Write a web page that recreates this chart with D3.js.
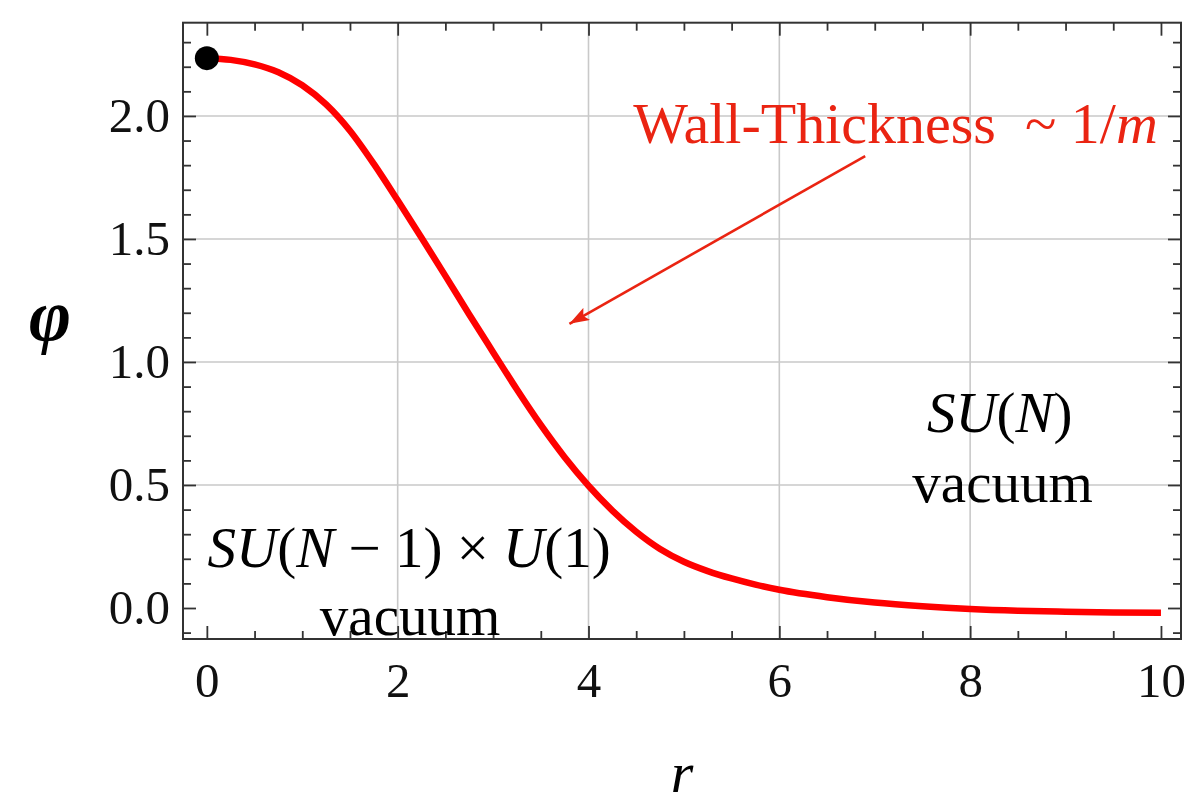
<!DOCTYPE html>
<html>
<head>
<meta charset="utf-8">
<script src="https://cdn.jsdelivr.net/npm/d3@7"></script>
<style>
  html, body { margin: 0; padding: 0; background: #fff; }
  svg { display: block; }
  text { font-family: "Liberation Serif", "Times New Roman", serif; }
</style>
</head>
<body>
<svg id="chart" width="1189" height="795"></svg>
<script>
// Radial profile of the scalar field across the wall
const rValues   = [0, 0.25, 0.5, 0.75, 1, 1.25, 1.5, 1.75, 2, 2.25, 2.5, 2.75, 3, 3.25, 3.5, 3.75,
                   4, 4.25, 4.5, 4.75, 5, 5.25, 5.5, 5.75, 6, 6.5, 7, 7.5, 8, 8.5, 9, 9.5, 10];
const phiValues = [2.235, 2.228, 2.210, 2.178, 2.125, 2.047, 1.940, 1.805, 1.657, 1.505, 1.350, 1.193, 1.040, 0.888, 0.744, 0.613,
                   0.497, 0.396, 0.310, 0.240, 0.188, 0.150, 0.120, 0.095, 0.074, 0.044, 0.022, 0.007, -0.004, -0.011, -0.015, -0.018, -0.019];

// Axis ticks
const xMajorTicks = [0, 2, 4, 6, 8, 10];
const xMinorTicks = [0.5, 1, 1.5, 2.5, 3, 3.5, 4.5, 5, 5.5, 6.5, 7, 7.5, 8.5, 9, 9.5];
const yMajorTicks = [0, 0.5, 1, 1.5, 2];
const yMinorTicks = [-0.1, 0.1, 0.2, 0.3, 0.4, 0.6, 0.7, 0.8, 0.9, 1.1, 1.2, 1.3, 1.4, 1.6, 1.7, 1.8, 1.9, 2.1, 2.2, 2.3];
const xGrid = [2, 4, 6, 8];
const yGrid = [0.5, 1, 1.5, 2];
const xTickLabels = ["0", "2", "4", "6", "8", "10"];
const yTickLabels = ["0.0", "0.5", "1.0", "1.5", "2.0"];

const svg = d3.select("#chart");
const plotLeft = 183, plotRight = 1181, plotTop = 22.7, plotBottom = 639;

const x = d3.scaleLinear().domain([-0.25, 10.21]).range([plotLeft, plotRight]);
const y = d3.scaleLinear().domain([-0.126, 2.379]).range([plotBottom, plotTop]);

const red = "#ff0000";
const annotRed = "#ea2412";
const frameColor = "#333";

// grid lines
const grid = svg.append("g");
grid.selectAll("line.gx").data(xGrid).join("line").attr("class", "gx")
  .attr("x1", d => x(d)).attr("x2", d => x(d))
  .attr("y1", plotTop).attr("y2", plotBottom)
  .attr("stroke", "#c9c9c9").attr("stroke-width", 1.6);
grid.selectAll("line.gy").data(yGrid).join("line").attr("class", "gy")
  .attr("x1", plotLeft).attr("x2", plotRight)
  .attr("y1", d => y(d)).attr("y2", d => y(d))
  .attr("stroke", "#c9c9c9").attr("stroke-width", 1.6);

// inward tick marks on all four sides
function ticks(axisFn, scale, values, size, transform) {
  const g = svg.append("g").attr("transform", transform)
    .call(axisFn(scale).tickValues(values).tickSize(-size).tickFormat(""));
  g.select(".domain").remove();
  g.selectAll("line").attr("stroke", frameColor).attr("stroke-width", 1.8);
}
ticks(d3.axisBottom, x, xMajorTicks, 13, `translate(0,${plotBottom})`);
ticks(d3.axisBottom, x, xMinorTicks, 8, `translate(0,${plotBottom})`);
ticks(d3.axisTop, x, xMajorTicks, 13, `translate(0,${plotTop})`);
ticks(d3.axisTop, x, xMinorTicks, 8, `translate(0,${plotTop})`);
ticks(d3.axisLeft, y, yMajorTicks, 13, `translate(${plotLeft},0)`);
ticks(d3.axisLeft, y, yMinorTicks, 8, `translate(${plotLeft},0)`);
ticks(d3.axisRight, y, yMajorTicks, 13, `translate(${plotRight},0)`);
ticks(d3.axisRight, y, yMinorTicks, 8, `translate(${plotRight},0)`);

// tick labels
const xLab = svg.append("g").attr("transform", `translate(0,${plotBottom})`)
  .call(d3.axisBottom(x).tickValues(xMajorTicks).tickSize(0).tickPadding(23)
    .tickFormat((d, i) => xTickLabels[i]));
xLab.select(".domain").remove();
xLab.selectAll("text").attr("font-size", 49).attr("fill", "#111")
  .style("font-family", "'Liberation Serif', serif");

const yLab = svg.append("g").attr("transform", `translate(${plotLeft},0)`)
  .call(d3.axisLeft(y).tickValues(yMajorTicks).tickSize(0).tickPadding(13)
    .tickFormat((d, i) => yTickLabels[i]));
yLab.select(".domain").remove();
yLab.selectAll("text").attr("font-size", 49).attr("fill", "#111")
  .style("font-family", "'Liberation Serif', serif");

// frame
svg.append("rect").attr("x", plotLeft).attr("y", plotTop)
  .attr("width", plotRight - plotLeft).attr("height", plotBottom - plotTop)
  .attr("fill", "none").attr("stroke", frameColor).attr("stroke-width", 2);

// axis titles
svg.append("text").attr("x", 50).attr("y", 340).attr("text-anchor", "middle")
  .attr("font-size", 72).attr("font-style", "italic").attr("font-weight", "bold")
  .text("φ");
svg.append("text").attr("x", (plotLeft + plotRight) / 2).attr("y", 792).attr("text-anchor", "middle")
  .attr("font-size", 58).attr("font-style", "italic")
  .text("r");

// profile curve
const pts = rValues.map((r, i) => [r, phiValues[i]]);
svg.append("path").datum(pts)
  .attr("fill", "none").attr("stroke", red).attr("stroke-width", 6.5)
  .attr("d", d3.line().x(d => x(d[0])).y(d => y(d[1])).curve(d3.curveMonotoneX));

// centre point
svg.append("circle").attr("cx", x(rValues[0])).attr("cy", y(phiValues[0]))
  .attr("r", 12).attr("fill", "#000");

// annotation arrow
svg.append("defs").append("marker")
  .attr("id", "head").attr("markerUnits", "userSpaceOnUse")
  .attr("viewBox", "0 0 20 14").attr("refX", 20).attr("refY", 7)
  .attr("markerWidth", 20).attr("markerHeight", 14).attr("orient", "auto")
  .append("path").attr("d", "M0,0 L20,7 L0,14 L4,7 Z").attr("fill", annotRed);
svg.append("line")
  .attr("x1", x(6.90)).attr("y1", y(1.837))
  .attr("x2", x(3.80)).attr("y2", y(1.155))
  .attr("stroke", annotRed).attr("stroke-width", 2.6)
  .attr("marker-end", "url(#head)");

// annotation texts
function rich(tx, parts) {
  parts.forEach(([s, it]) => tx.append("tspan").attr("font-style", it ? "italic" : "normal").text(s));
  return tx;
}
rich(svg.append("text").attr("x", x(4.47)).attr("y", y(1.89))
  .attr("font-size", 58).attr("fill", annotRed),
  [["Wall-Thickness \u00A0~ 1/", false], ["m", true]]);

rich(svg.append("text").attr("x", x(8.31)).attr("y", y(0.715))
  .attr("text-anchor", "middle").attr("font-size", 57),
  [["SU", true], ["(", false], ["N", true], [")", false]]);
svg.append("text").attr("x", x(8.34)).attr("y", y(0.431))
  .attr("text-anchor", "middle").attr("font-size", 57).text("vacuum");

rich(svg.append("text").attr("x", x(2.12)).attr("y", y(0.168))
  .attr("text-anchor", "middle").attr("font-size", 57),
  [["SU", true], ["(", false], ["N", true], [" \u2212 1) \u00D7 ", false], ["U", true], ["(1)", false]]);
svg.append("text").attr("x", x(2.13)).attr("y", y(-0.11))
  .attr("text-anchor", "middle").attr("font-size", 57).text("vacuum");
</script>
</body>
</html>
